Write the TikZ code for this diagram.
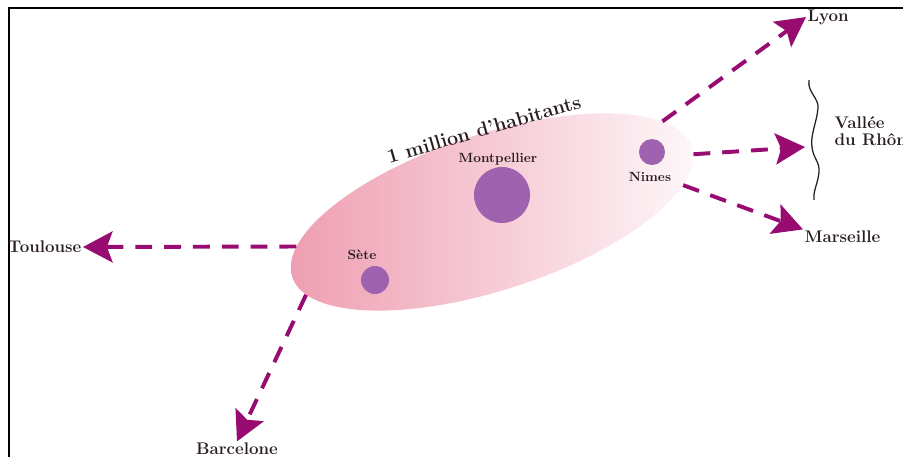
\documentclass[tikz,border=0pt]{standalone}
\usetikzlibrary{arrows.meta,shapes.geometric}
\definecolor{agglF}{HTML}{EE9CB0}
\definecolor{cityF}{HTML}{9E62AE}
\definecolor{arrC}{HTML}{980C72}
\definecolor{labC}{HTML}{2A1E22}
\tikzset{
  agglo/.style={ellipse, inner sep=0pt, minimum width=10.5cm, minimum height=3.9cm,
                left color=agglF, right color=agglF!6, rotate=18},
  city/.style={circle, fill=cityF, inner sep=0pt},
  inlab/.style={font=\fontsize{9.5}{11}\selectfont\bfseries, text=labC, inner sep=1pt},
  outlab/.style={font=\fontsize{12}{12.5}\selectfont\bfseries, text=labC, inner sep=1pt, align=left},
  arr/.style={-{Stealth[length=21pt,width=22pt,inset=4pt]}, draw=arrC, line width=2.8pt,
              dash pattern=on 12pt off 8.5pt},
}
\begin{document}
\begin{tikzpicture}[x=0.025cm, y=-0.025cm]
\useasboundingbox (0,0) rectangle (903,456);
\draw[line width=1.4pt] (9,8) rectangle (980,520);
\node[agglo] (ag) at (492,212) {};
\node[rotate=16, font=\fontsize{14}{16}\selectfont\bfseries, text=labC] (hab) at (484,129) {1 million d'habitants};
\node[city, minimum size=1.4cm] (mtp) at (502,195) {};
\node[city, minimum size=0.7cm] (set) at (375,280) {};
\node[city, minimum size=0.65cm] (nim) at (652,152) {};
\node[inlab] (mtpl) at (498,159) {Montpellier};
\node[inlab] (setl) at (362,255) {Sète};
\node[inlab] (niml) at (650,177) {Nimes};
\node[outlab, anchor=east] (tls) at (83,247) {Toulouse};
\node[outlab] (bcn) at (237,449) {Barcelone};
\node[outlab, anchor=west] (lyon) at (806,17) {Lyon};
\node[outlab, anchor=west] (mrs) at (803,237) {Marseille};
\node[outlab, anchor=west] (rho) at (833,131) {Vallée\\du Rhône};
\coordinate (rhot) at (805,147);
\draw[line width=0.9pt, labC] (809,80) .. controls (807,92) and (819,98) .. (818,108)
  .. controls (817,122) and (810,135) .. (812,147)
  .. controls (813,158) and (820,162) .. (819,172)
  .. controls (818,184) and (813,190) .. (814,200);
\draw[arr] (ag.172) -- (tls.east);
\draw[arr] (ag.186) -- (bcn.north);
\draw[arr] (ag.10) -- (lyon.west);
\draw[arr] (ag.358) -- (rhot);
\draw[arr] (ag.350) -- (mrs.north west);
\end{tikzpicture}
\end{document}
